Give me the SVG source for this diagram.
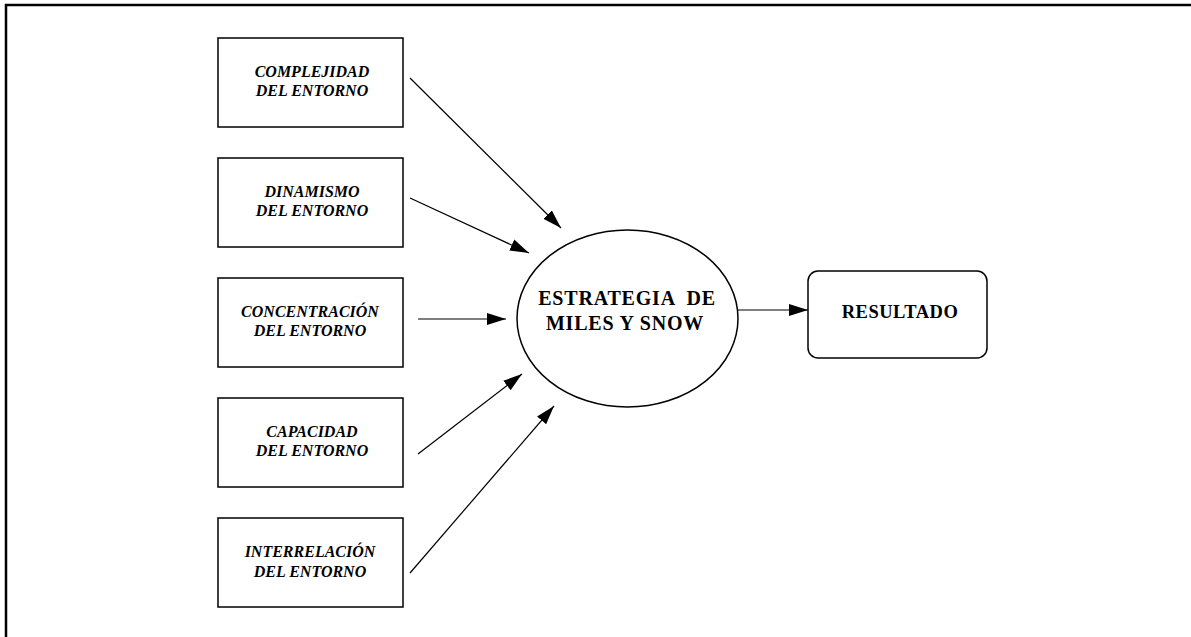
<svg xmlns="http://www.w3.org/2000/svg" width="1191" height="637" viewBox="0 0 1191 637">
  <style>
    .box { fill: #ffffff; stroke: #000000; stroke-width: 1.5; }
    .lbl { font-family: "Liberation Serif", "Times New Roman", serif; font-weight: bold; font-style: italic; font-size: 16px; fill: #000000; text-anchor: middle; }
    .big { font-family: "Liberation Serif", "Times New Roman", serif; font-weight: bold; font-size: 20px; letter-spacing: 0.8px; fill: #000000; text-anchor: middle; white-space: pre; }
    .edge { stroke: #000000; stroke-width: 1.2; fill: none; marker-end: url(#arrow); }
  </style>
  <defs>
    <marker id="arrow" markerUnits="userSpaceOnUse" markerWidth="20" markerHeight="14" viewBox="0 0 20 14" refX="19" refY="7" orient="auto">
      <path d="M0,1 L19,7 L0,13 Z" fill="#000000"/>
    </marker>
  </defs>
  <rect width="1191" height="637" fill="#ffffff"/>
  <!-- frame -->
  <path d="M6,637 L6,5 L1191,5" fill="none" stroke="#000000" stroke-width="2.5"/>

  <g id="n-complejidad">
    <rect class="box" x="218" y="38" width="185" height="89"/>
    <text class="lbl" x="312" y="77">COMPLEJIDAD</text>
    <text class="lbl" x="312" y="96">DEL ENTORNO</text>
  </g>
  <g id="n-dinamismo">
    <rect class="box" x="218" y="158" width="185" height="89"/>
    <text class="lbl" x="312" y="197">DINAMISMO</text>
    <text class="lbl" x="312" y="216">DEL ENTORNO</text>
  </g>
  <g id="n-concentracion">
    <rect class="box" x="218" y="278" width="185" height="89"/>
    <text class="lbl" x="310" y="317">CONCENTRACIÓN</text>
    <text class="lbl" x="310" y="336">DEL ENTORNO</text>
  </g>
  <g id="n-capacidad">
    <rect class="box" x="218" y="398" width="185" height="89"/>
    <text class="lbl" x="312" y="437">CAPACIDAD</text>
    <text class="lbl" x="312" y="456">DEL ENTORNO</text>
  </g>
  <g id="n-interrelacion">
    <rect class="box" x="218" y="518" width="185" height="89"/>
    <text class="lbl" x="310" y="557">INTERRELACIÓN</text>
    <text class="lbl" x="310" y="577">DEL ENTORNO</text>
  </g>
  <g id="n-estrategia">
    <ellipse class="box" cx="627.5" cy="318.5" rx="110.5" ry="88.5"/>
    <text class="big" x="627" y="305" xml:space="preserve">ESTRATEGIA  DE</text>
    <text class="big" x="625" y="330">MILES Y SNOW</text>
  </g>
  <g id="n-resultado">
    <rect class="box" x="808" y="271" width="179" height="87" rx="10" ry="10"/>
    <text class="big" x="900" y="318" style="font-size:18.5px;letter-spacing:0.5px">RESULTADO</text>
  </g>

  <g id="connectors">
    <line class="edge" x1="410" y1="78" x2="561" y2="228"/>
    <line class="edge" x1="410" y1="198" x2="529" y2="253"/>
    <line class="edge" x1="418" y1="319" x2="506" y2="319"/>
    <line class="edge" x1="418" y1="454" x2="522" y2="374"/>
    <line class="edge" x1="410" y1="573" x2="554" y2="406"/>
    <line class="edge" x1="738" y1="310" x2="808" y2="310"/>
  </g>
</svg>
